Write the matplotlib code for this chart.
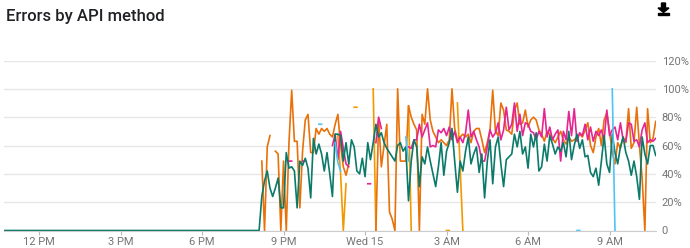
import numpy as np
import matplotlib.pyplot as plt
from matplotlib.patches import Polygon, Rectangle

nan = np.nan

# hours since Tue 00:00, one sample every 6 minutes from 20:00 on
flat_start = 10.7
times = np.round(np.arange(20.0, 34.75, 0.1), 1)

teal = [0, 0, 24, 35, 42, 30, 24, 30, 37, 16,
        16, 55, 44, 45, 42, 16, 49, 46, 51, 44,
        23, 65, 54, 61, 54, 42, 55, 40, 24, 68,
        68, 67, 49, 62, 47, 64, 59, 42, 40, 51,
        38, 62, 50, 62, 75, 66, 69, 62, 58, 55,
        52, 49, 60, 62, 56, 59, 21, 49, 64, 59,
        31, 52, 47, 59, 49, 40, 31, 45, 62, 39,
        56, 62, 72, 49, 27, 49, 42, 56, 66, 47,
        54, 59, 41, 54, 23, 49, 64, 33, 59, 66,
        47, 31, 50, 52, 54, 68, 59, 70, 54, 59,
        44, 68, 59, 69, 42, 45, 61, 49, 67, 61,
        54, 59, 56, 62, 52, 70, 50, 60, 68, 58,
        64, 52, 53, 41, 38, 44, 32, 49, 67, 47,
        41, 68, 55, 47, 59, 66, 55, 49, 39, 49,
        38, 22, 66, 54, 47, 60, 60, 53]

pink = [nan, nan, nan, nan, nan, nan, nan, nan, nan, nan,
        nan, nan, 49, 49, nan, nan, nan, 49, 49, nan,
        nan, nan, nan, nan, nan, nan, nan, nan, 60, 68,
        50, 70, 58, 47, 45, nan, nan, nan, nan, nan,
        nan, 33, 33, nan, 62, 80, 72, nan, nan, nan,
        nan, nan, nan, nan, nan, nan, 59, 58, 64, 64,
        75, 66, 71, 76, 59, 60, 59, 71, 69, 72,
        67, 73, 64, 70, 62, 66, 62, 69, 85, 66,
        70, 64, 59, 49, 49, 59, 71, 66, 69, 76,
        64, 71, 87, 71, 75, 90, 70, 82, 67, 76,
        75, 70, 69, 64, 70, 66, 86, 66, 73, 64,
        68, 71, 49, 70, 64, 84, 67, 86, 63, 69,
        67, 75, 64, 73, 63, 70, 67, 71, 64, 85,
        67, 71, 73, 64, 76, 64, 63, 76, 75, 63,
        64, 59, 71, 76, 62, 64, 63, 65]

dark_orange = [nan, nan, 49, 0, 59, 67, nan, 56, 54, 0,
               49, 0, 62, 99, 63, 63, 16, 56, 78, 82,
               55, 55, 72, 68, 72, 70, 72, 68, 66, 75,
               82, 60, 45, 39, 47, nan, nan, nan, nan, nan,
               nan, nan, nan, nan, 0, 79, 45, 60, 75, 13,
               8, 0, 100, 49, 49, 49, 88, 80, 75, 71,
               0, 82, 75, 100, 78, 70, 66, 62, 64, 62,
               60, 64, 100, 72, 64, 66, 68, 66, 68, 62,
               70, 72, 72, 64, 55, 62, 71, 99, 70, 67,
               90, 85, 71, 70, 68, 85, 90, 75, 76, 85,
               73, 78, 80, 78, 71, 68, 63, 70, 68, 65,
               62, 66, 70, 64, 61, 66, 63, 64, 66, 68,
               66, 71, 76, 60, 55, 66, 72, 60, 78, 83,
               70, 55, 47, 62, 58, 66, 62, 86, 58, 62,
               87, 60, 37, 0, 86, 62, 65, 77]

light_orange = [nan] * 148
for i, v in [(30, 67), (31, 40), (32, 0), (33, 33), (36, 87), (37, 87),
             (43, 100), (44, 0), (56, 88), (57, 0), (70, 0), (71, 0),
             (74, 90), (75, 45), (76, 0)]:
    light_orange[i] = v

light_blue = [nan] * 148
for i, v in [(23, 75), (24, 75), (29, 62), (30, 48), (31, 42), (55, 66),
             (56, 49), (118, 0), (119, 0), (131, 100), (132, 0)]:
    light_blue[i] = v

tick_hours = [12, 15, 18, 21, 24, 27, 30, 33]
tick_labels = ['12 PM', '3 PM', '6 PM', '9 PM', 'Wed 15', '3 AM', '6 AM', '9 AM']
y_ticks = [0, 20, 40, 60, 80, 100, 120]
y_labels = ['0', '20%', '40%', '60%', '80%', '100%', '120%']

plt.rcParams['font.family'] = ['Roboto', 'DejaVu Sans']

fig = plt.figure(figsize=(6.9, 2.48), dpi=100)
ax = fig.add_axes([4/690, 17.5/248, 652/690, 170/248])

lw = 1.2
ax.plot(times, light_orange, color='#f29900', lw=lw)
ax.plot(times, dark_orange, color='#e8710a', lw=lw)
ax.plot(times, pink, color='#e52592', lw=lw)
ax.plot(np.concatenate([[flat_start], times]), [0] + teal, color='#0b7a6a', lw=lw)
ax.plot(times, light_blue, color='#4fc3f7', lw=lw)

ax.set_xlim(10.71, 34.71)
ax.set_ylim(0, 120)
ax.set_xticks(tick_hours)
ax.set_xticklabels(tick_labels)
ax.set_yticks(y_ticks)
ax.set_yticklabels(y_labels)
ax.yaxis.tick_right()
ax.grid(axis='y', color='#e6e6e6', lw=1)
ax.set_axisbelow(True)
for s in ['top', 'left', 'right']:
    ax.spines[s].set_visible(False)
ax.spines['bottom'].set_color('#cccccc')
ax.tick_params(axis='y', length=0, pad=4, labelsize=8, labelcolor='#757575')
ax.tick_params(axis='x', length=3, color='#bbbbbb', pad=2, labelsize=8, labelcolor='#757575')

fig.text(6/690, 1 - 17/248, 'Errors by API method', fontsize=12, va='center',
         color='#202124', fontweight='medium')

# download icon
def fp(x, y):
    return (x / 690, 1 - y / 248)

fig.patches.append(Polygon([fp(661.5, 3), fp(665.5, 3), fp(665.5, 8), fp(669, 8),
                            fp(663.5, 12.5), fp(658, 8), fp(661.5, 8)],
                           closed=True, color='black', transform=fig.transFigure))
fig.patches.append(Rectangle(fp(658, 15), 11/690, 1.6/248, color='black',
                             transform=fig.transFigure))

plt.savefig('out.png', dpi=100)
